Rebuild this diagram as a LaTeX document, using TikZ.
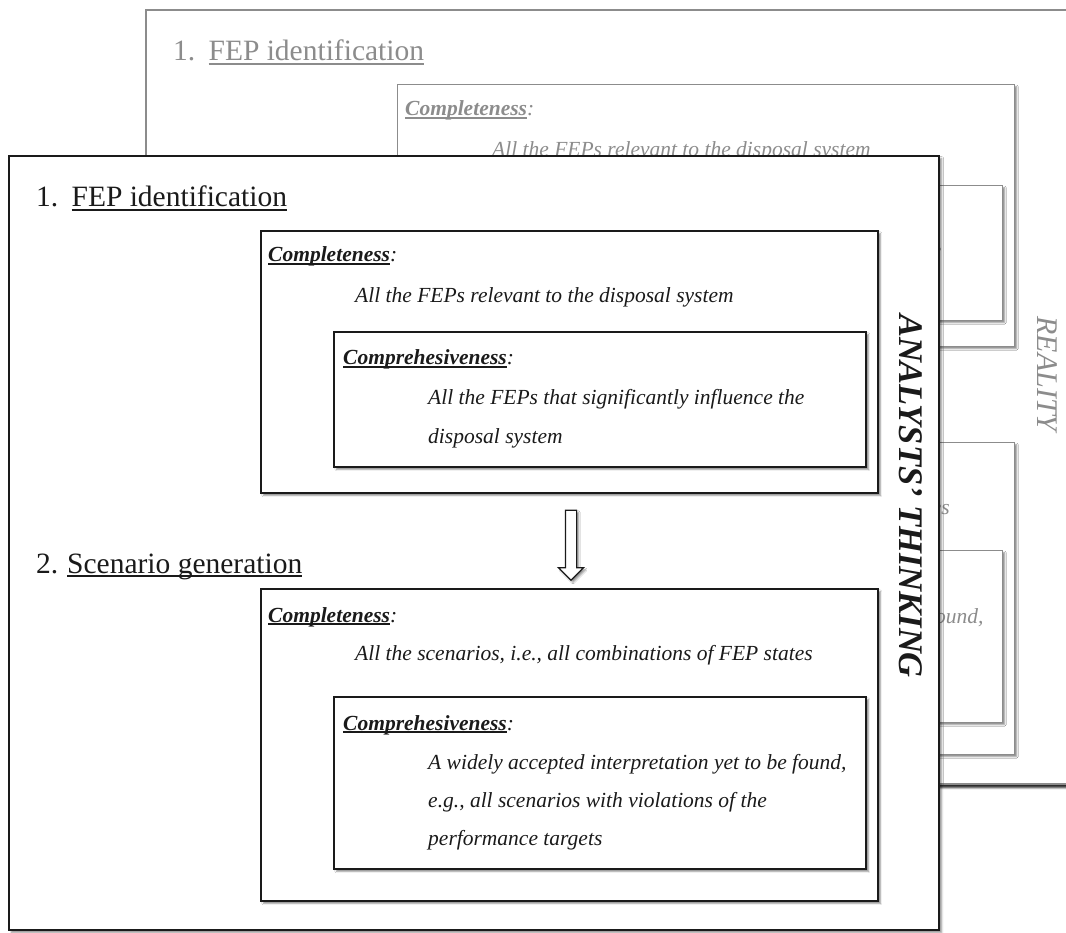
\documentclass[tikz,border=0pt]{standalone}
\usepackage{fontspec}
\setmainfont{Liberation Serif}
\usetikzlibrary{positioning,shapes.arrows,shadows.blur}

\definecolor{inkfront}{HTML}{1A1A1A}
\definecolor{inkback}{HTML}{8C8C8C}

% underline at a fixed depth
\newsavebox\ulbox
\newcommand{\ulword}[1]{\sbox\ulbox{#1}\rlap{\rule[-0.13em]{\wd\ulbox}{0.07em}}\usebox\ulbox}

\tikzset{
  pagebox/.style={draw, line width=2.2pt, fill=white, anchor=north west, inner sep=0pt,
    blur shadow={shadow xshift=2.5pt, shadow yshift=-2.5pt, shadow blur radius=2pt, shadow opacity=45}},
  critbox/.style={draw, line width=1.8pt, fill=white, anchor=north west, inner sep=0pt,
    blur shadow={shadow xshift=2.5pt, shadow yshift=-2.5pt, shadow blur radius=1.5pt, shadow opacity=45}},
  heading/.style={anchor=base west, inner sep=0pt, font=\fontsize{29.5}{35}\selectfont},
  critlabel/.style={anchor=base west, inner sep=0pt, font=\fontsize{21.5}{26}\selectfont\bfseries\itshape},
  crittext/.style={anchor=base west, inner sep=0pt, font=\fontsize{21.5}{26}\selectfont\itshape},
  sidelabel/.style={rotate=-90, inner sep=0pt},
  flowarrow/.style={single arrow, draw, fill=white, line width=1.2pt, rotate=-90,
    inner xsep=0pt, inner ysep=5pt, minimum height=70pt,
    single arrow head extend=7pt, single arrow tip angle=90,
    blur shadow={shadow xshift=2pt, shadow yshift=-2pt, shadow blur radius=1.5pt, shadow opacity=45}}
}

% one sheet of the two-step scheme, #1 = name prefix
\newcommand{\fepsheet}[1]{%
  \node[pagebox, minimum width=930pt, minimum height=774pt] (#1page) at (8,155) {};
  \node[heading] (#1head1) at (36,207) {1.\hspace{0.45em}\ulword{FEP identification}};
  \node[heading] (#1head2) at (36,573) {2.\hspace{0.3em}\ulword{Scenario generation}};
  % FEP identification
  \node[critbox, minimum width=617pt, minimum height=262pt] (#1fep) at (260,230) {};
  \node[critlabel] (#1fepcl) at (268,262) {\ulword{Completeness}{\mdseries:}};
  \node[crittext] (#1fepct) at (355,303) {All the FEPs relevant to the disposal system};
  \node[critbox, minimum width=532pt, minimum height=135pt] (#1fepin) at (333,331) {};
  \node[critlabel] (#1fephl) at (343,365) {\ulword{Comprehesiveness}{\mdseries:}};
  \node[crittext] (#1fepha) at (428,404) {All the FEPs that significantly influence the};
  \node[crittext] (#1fephb) at (428,443) {disposal system};
  % scenario generation
  \node[critbox, minimum width=617pt, minimum height=312pt] (#1scen) at (260,588) {};
  \node[critlabel] (#1scencl) at (268,622) {\ulword{Completeness}{\mdseries:}};
  \node[crittext] (#1scenct) at (355,660) {All the scenarios, i.e., all combinations of FEP states};
  \node[critbox, minimum width=532pt, minimum height=172pt] (#1scenin) at (333,696) {};
  \node[critlabel] (#1scenhl) at (343,730) {\ulword{Comprehesiveness}{\mdseries:}};
  \node[crittext] (#1scenha) at (428,769) {A widely accepted interpretation yet to be found,};
  \node[crittext] (#1scenhb) at (428,807) {e.g., all scenarios with violations of the};
  \node[crittext] (#1scenhc) at (428,845) {performance targets};
}

\begin{document}
\begin{tikzpicture}[x=1pt, y=-1pt]
  \useasboundingbox (0,0) rectangle (1066,933);
  \clip (0,0) rectangle (1066,933);

  % reality, behind
  \begin{scope}[shift={(137,-146)}, color=inkback,
      pagebox/.append style={line width=2pt,
        blur shadow={shadow xshift=3pt, shadow yshift=-3.5pt, shadow blur radius=2pt, shadow opacity=60}},
      critbox/.append style={line width=1.3pt,
        blur shadow={shadow xshift=2pt, shadow yshift=-2pt, shadow blur radius=1.5pt, shadow opacity=25}}]
    \fepsheet{r}
  \end{scope}
  \node[sidelabel, text=inkback, font=\fontsize{30}{36}\selectfont\itshape] (reality) at (1047,374) {REALITY};

  % analysts' thinking, in front
  \begin{scope}[color=inkfront]
    \fepsheet{a}
    \node[flowarrow] (flow) at (571,542.5) {};
  \end{scope}
  \node[sidelabel, text=inkfront, font=\fontsize{34.5}{40}\selectfont\bfseries\itshape] (thinking) at (911,496)
    {ANALYSTS’ THINKING};

\end{tikzpicture}
\end{document}
